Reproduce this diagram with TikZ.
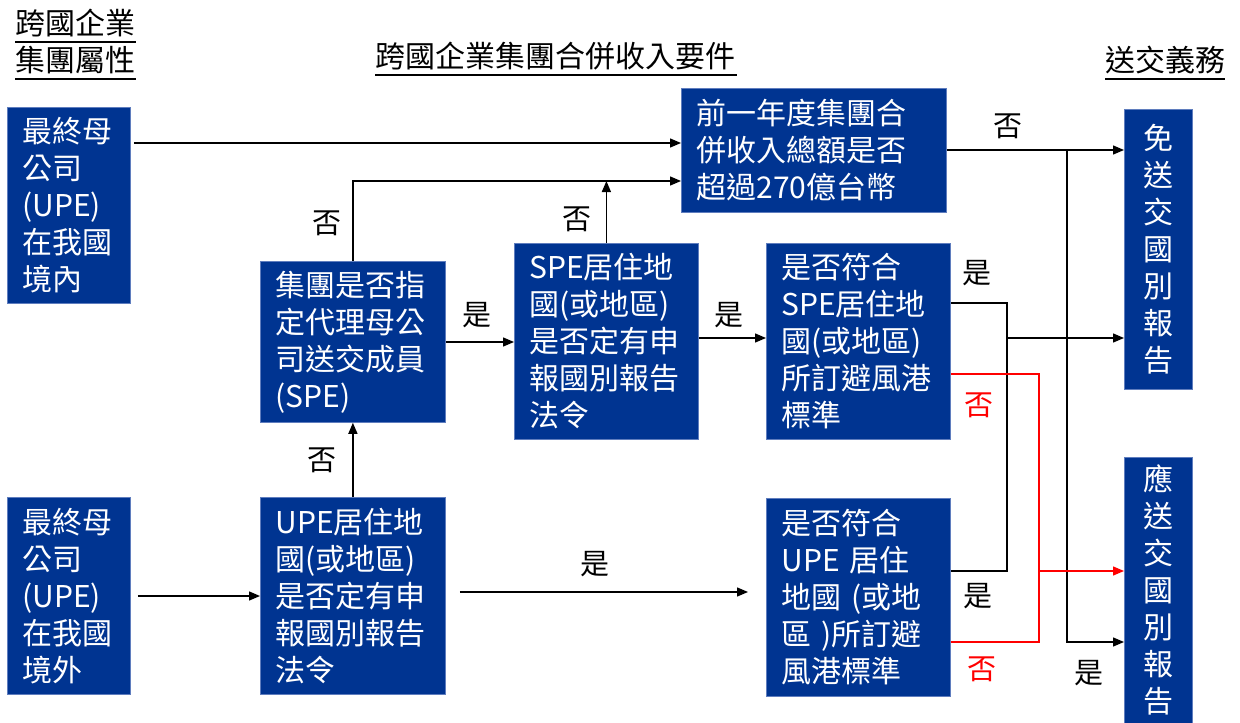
\documentclass[tikz,border=0pt]{standalone}
\usepackage{fontspec}
\setmainfont{Noto Sans CJK TC}
\usetikzlibrary{arrows.meta}
\definecolor{boxblue}{RGB}{0,52,145}
\definecolor{boxedge}{RGB}{95,125,190}
\definecolor{redline}{RGB}{255,0,0}
\begin{document}
\begin{tikzpicture}[x=1pt,y=-1pt,
  box/.style={draw=boxedge, line width=0.8pt, fill=boxblue, text=white,
    font=\fontsize{30}{37}\selectfont, align=left, inner xsep=15pt, inner ysep=0pt,
    anchor=north west},
  vbox/.style={box, align=center, inner xsep=0pt, text width=68pt},
  lbl/.style={font=\fontsize{29}{35}\selectfont, inner sep=0pt},
  head/.style={font=\fontsize{30}{35}\selectfont, inner sep=0pt, anchor=base west},
  uline/.style={line width=1.4pt},
  line/.style={line width=1.4pt},
  conn/.style={line, -{Triangle[length=11pt,width=9pt]}},
  redl/.style={line, draw=redline},
  redconn/.style={conn, draw=redline, fill=redline}]
\useasboundingbox (0,0) rectangle (1240,723);

% headings
\node[head] (h1a) at (15,34) {跨國企業};
\node[head] (h1b) at (15,71) {集團屬性};
\draw[uline] (15,42) -- (136,42);
\draw[uline] (15,79) -- (136,79);
\node[head] (h2) at (375,67) {跨國企業集團合併收入要件};
\draw[uline] (375,75) -- (737,75);
\node[head] (h3) at (1105,71) {送交義務};
\draw[uline] (1105,79) -- (1225,79);

% boxes
\node[box, text width=93pt, minimum height=196pt] (A) at (7,107) {最終母\\公司\\(UPE)\\在我國\\境內};
\node[box, text width=93pt, minimum height=197pt] (B) at (7,497) {最終母\\公司\\(UPE)\\在我國\\境外};
\node[box, text width=155pt, minimum height=197pt] (C) at (260,497) {UPE居住地\\國(或地區)\\是否定有申\\報國別報告\\法令};
\node[box, text width=155pt, minimum height=161pt] (D) at (260,261) {集團是否指\\定代理母公\\司送交成員\\(SPE)};
\node[box, text width=154pt, minimum height=196pt] (E) at (514,243) {SPE居住地\\國(或地區)\\是否定有申\\報國別報告\\法令};
\node[box, text width=154pt, minimum height=196pt] (F) at (766,243) {是否符合\\SPE居住地\\國(或地區)\\所訂避風港\\標準};
\node[box, text width=154pt, minimum height=198pt] (G) at (766,498) {是否符合\\UPE 居住\\地國 (或地\\區 )所訂避\\風港標準};
\node[box, text width=235pt, minimum height=124pt] (H) at (681,88) {前一年度集團合\\併收入總額是否\\超過270億台幣};
\node[vbox, minimum height=280pt] (I) at (1124,109) {免\\送\\交\\國\\別\\報\\告};
\node[vbox, minimum height=266pt] (J) at (1124,457) {應\\送\\交\\國\\別\\報\\告};

% helper rows
\coordinate (r143) at (0,143);
\coordinate (r150) at (0,150);
\coordinate (r181) at (0,181);
\coordinate (r303) at (0,303);
\coordinate (r338) at (0,338);
\coordinate (r342) at (0,342);
\coordinate (r374) at (0,374);
\coordinate (r571) at (0,571);
\coordinate (r592) at (0,592);
\coordinate (r596) at (0,596);
\coordinate (r642) at (0,642);
\coordinate (j1) at (1067,150);
\coordinate (j2) at (1007,338);
\coordinate (j3) at (1039,571);

% connectors
\draw[conn, shorten <=3pt] (A.east |- r143) -- (H.west |- r143);
\draw[conn] (D.north) |- (H.west |- r181);
\draw[conn] (E.north) -- (E.north |- r181);
\draw[conn] (D.east |- r342) -- (E.west |- r342);
\draw[conn] (E.east |- r338) -- (F.west |- r338);
\draw[conn] (C.north) -- (D.south);
\draw[conn, shorten <=7pt] (B.east |- r596) -- (C.west |- r596);
\draw[conn, shorten <=14pt, shorten >=18pt] (C.east |- r592) -- (G.west |- r592);
\draw[conn] (H.east |- r150) -- (I.west |- r150);
\draw[conn] (j1) |- (J.west |- r642);
\draw[line] (F.east |- r303) -| (j2) -- (j2 |- r571) -- (G.east |- r571);
\draw[conn] (j2) -- (I.west |- r338);
\draw[redl] (F.east |- r374) -| (j3) -- (j3 |- r642) -- (G.east |- r642);
\draw[redconn] (j3) -- (J.west |- r571);

% labels
\node[lbl] (n1) at (327,223) {否};
\node[lbl] (n2) at (577,219) {否};
\node[lbl] (y1) at (477,315) {是};
\node[lbl] (y2) at (729,315) {是};
\node[lbl] (n3) at (322,460) {否};
\node[lbl] (y3) at (595,564) {是};
\node[lbl] (n4) at (1008,126) {否};
\node[lbl] (y4) at (977,273) {是};
\node[lbl, text=redline] (n5) at (979,405) {否};
\node[lbl] (y5) at (978,596) {是};
\node[lbl, text=redline] (n6) at (982,669) {否};
\node[lbl] (y6) at (1089,673) {是};
\end{tikzpicture}
\end{document}
